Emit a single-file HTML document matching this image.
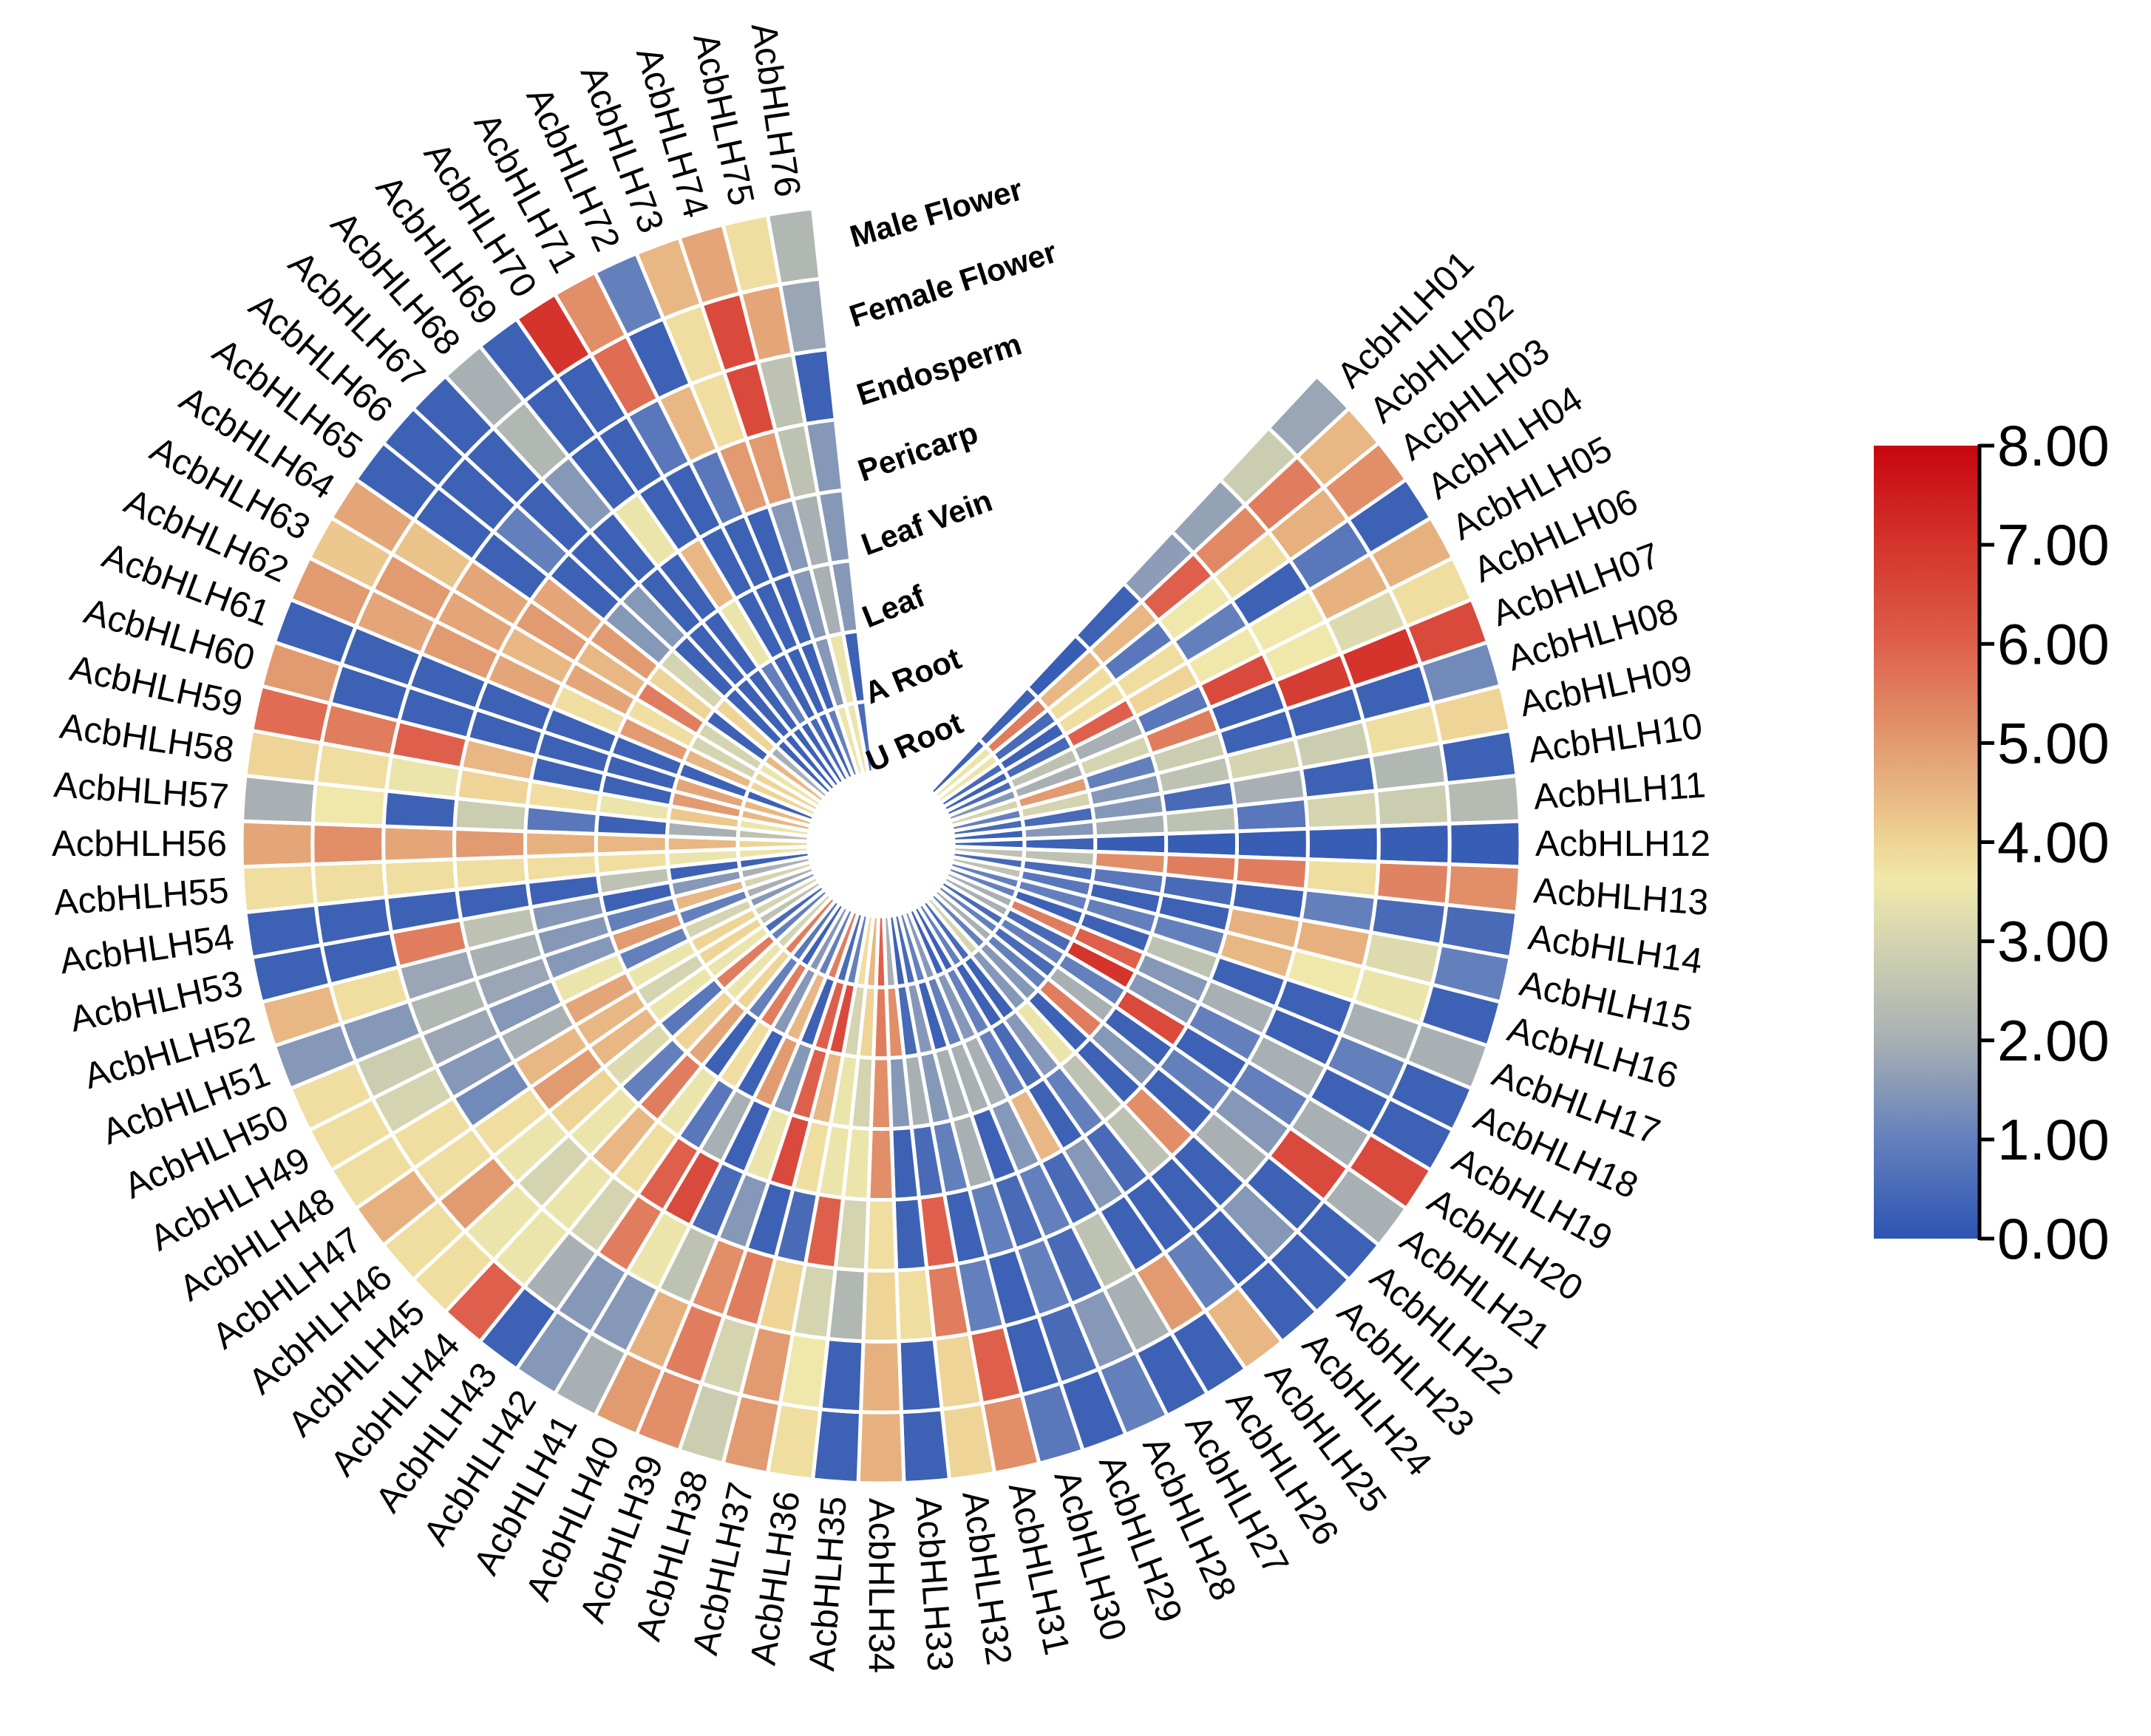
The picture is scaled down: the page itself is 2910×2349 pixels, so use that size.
<!DOCTYPE html>
<html><head><meta charset="utf-8"><style>
html,body{margin:0;padding:0;background:#fff;}
svg{display:block;}
</style></head><body>
<svg id="chart" xmlns="http://www.w3.org/2000/svg" width="2910" height="2349" viewBox="0 0 2910 2349">
<rect width="2910" height="2349" fill="#fff"/>
<g id="cells"></g>
<g id="genelabels"></g>
<g id="tissuelabels"></g>
<g id="legend"></g>
</svg>
<script>
const tissues = ["Male Flower","Female Flower","Endosperm","Pericarp","Leaf Vein","Leaf","A Root","U Root"];
const maleFlower = [1.8,4.5,5.2,0.3,4.6,3.8,6.5,1.2,4.0,0.3, 2.3,0.2,5.2,0.5,1.0,0.3,2.0,0.3,0.3,6.5, 2.0,0.3,0.3,0.3,4.5,0.3,0.3,1.0,0.3,0.8, 5.2,4.0,0.3,4.6,0.3,3.8,5.0,2.8,5.2,5.0, 2.0,1.5,0.3,6.0,3.8,3.8,4.6,3.8,3.8,3.8, 1.5,4.5,0.3,0.3,3.8,4.8,2.0,4.0,5.8,5.0, 0.3,5.0,4.2,4.8,0.3,0.3,0.3,2.0,0.3,7.0, 5.2,1.0,4.5,4.8,3.8,2.2];
const femaleFlower = [2.8,5.5,4.6,0.8,4.6,3.2,7.0,0.3,3.8,2.2, 2.8,0.2,5.4,0.5,3.2,3.5,2.0,1.0,0.3,2.0, 6.5,0.3,1.5,0.3,1.0,5.0,2.0,1.5,0.5,0.3, 6.0,4.0,0.3,4.6,0.3,3.6,5.0,3.0,5.5,4.6, 1.5,1.5,2.0,3.5,3.5,5.0,3.8,3.8,3.0,2.8, 1.5,3.8,0.3,0.3,3.8,5.2,3.6,3.8,5.5,0.3, 0.3,4.8,5.0,4.3,0.3,0.3,0.3,2.2,0.3,0.3, 5.8,0.3,3.8,6.5,4.8,1.8];
const endosperm = [1.7,5.3,3.8,0.3,3.6,3.6,6.8,0.3,2.8,0.3, 3.0,0.2,3.8,1.0,4.6,3.6,0.3,0.3,2.0,1.0, 1.5,2.0,0.3,0.3,0.3,0.3,2.5,0.5,1.0,0.3, 1.0,5.5,3.8,4.0,2.2,3.0,4.0,5.5,5.2,2.5, 3.5,5.5,3.0,3.5,3.0,3.5,3.8,1.2,1.5,1.8, 2.2,1.8,5.5,0.3,3.8,4.8,0.3,3.5,6.0,0.3, 0.3,5.0,4.8,4.8,0.3,1.0,0.3,1.5,0.3,0.3, 0.8,4.5,3.8,6.5,2.5,0.3];
const pericarp = [1.6,6.0,3.6,1.0,3.6,6.5,0.3,0.3,3.0,2.0, 0.8,0.2,5.5,0.3,4.6,4.5,0.3,2.0,1.0,0.3, 1.0,0.3,5.2,2.5,0.5,1.5,0.5,1.0,0.5,1.0, 0.3,6.0,0.3,3.8,3.0,6.0,0.5,0.3,1.5,0.5, 6.5,6.0,3.8,4.5,3.5,4.0,5.0,4.5,2.0,1.5, 1.8,2.0,2.5,0.3,3.8,5.0,2.8,4.0,4.5,0.3, 0.3,4.8,4.5,5.0,4.8,0.3,0.3,0.3,3.5,0.3, 0.3,0.8,5.0,5.0,2.5,1.5];
const leafVein = [0.3,4.5,0.8,3.8,4.0,0.8,5.5,2.8,2.5,0.5, 2.5,0.2,5.5,0.5,0.3,1.0,2.5,1.5,1.5,6.5, 0.3,1.5,0.3,2.5,1.0,0.3,4.5,1.5,0.3,2.0, 1.0,0.5,0.3,5.2,3.5,3.5,3.8,6.5,3.5,0.3, 2.0,0.8,3.5,5.5,1.0,3.2,4.5,4.5,4.8,3.5, 1.5,1.5,1.5,0.3,3.8,4.6,0.8,3.8,0.3,0.3, 0.3,3.8,4.8,4.5,5.0,1.5,1.5,0.3,0.3,4.5, 0.3,0.3,0.3,1.5,2.0,1.5];
const leaf = [0.2,4.5,3.8,3.8,6.0,2.0,3.0,1.0,1.5,1.5, 2.0,0.2,5.2,0.8,0.3,1.0,0.3,6.0,7.0,1.0, 2.0,5.5,0.3,3.5,1.5,0.5,1.0,2.0,2.0,2.0, 1.5,2.0,1.5,5.2,3.0,3.5,4.5,6.0,1.5,5.0, 0.3,3.8,0.3,4.8,4.0,0.8,3.5,3.0,3.5,1.0, 5.0,1.0,0.3,2.5,3.8,4.5,0.3,3.5,0.3,0.3, 0.3,5.0,3.8,5.5,4.0,3.0,0.3,0.3,0.3,3.5, 0.3,0.3,0.3,1.5,2.0,1.5];
const aRoot = [0.3,5.5,0.5,0.3,0.5,2.5,2.0,5.0,3.0,0.5, 1.5,0.3,2.5,0.5,0.8,1.0,0.3,5.5,0.5,1.0, 0.5,1.0,1.5,1.5,0.3,0.3,1.0,1.5,1.0,0.3, 1.5,0.5,5.2,5.5,4.0,3.0,6.5,6.0,0.3,4.5, 1.5,5.5,1.0,4.0,3.5,5.5,3.5,4.0,4.0,3.0, 1.0,4.5,1.5,0.3,3.5,4.5,2.0,4.2,5.0,4.8, 0.3,4.5,3.0,3.0,0.3,4.0,0.3,0.3,0.3,1.0, 0.3,0.3,0.3,1.5,3.5,0.3];
const uRoot = [0.3,3.5,3.5,0.5,0.3,0.5,1.5,3.0,1.0,0.5, 0.3,0.3,2.5,0.5,2.5,1.0,1.0,2.0,2.0,0.5, 1.0,2.0,1.0,3.0,0.5,1.0,0.3,0.3,1.5,1.0, 0.5,0.3,2.0,6.0,4.5,3.8,1.0,0.5,5.5,1.0, 1.5,0.3,0.8,5.5,3.0,1.0,0.5,2.5,3.0,1.5, 2.0,3.0,2.0,0.3,3.5,4.0,2.5,3.5,4.5,4.5, 0.3,4.0,4.0,3.5,4.5,2.0,0.3,0.3,0.3,0.3, 0.5,0.3,1.0,3.5,3.5,0.5];
const legendTicks = ["0.00","1.00","2.00","3.00","4.00","5.00","6.00","7.00","8.00"];

const series = [maleFlower,femaleFlower,endosperm,pericarp,leafVein,leaf,aRoot,uRoot];
const NS = "http://www.w3.org/2000/svg";
const genes = [];
for (let i = 1; i <= maleFlower.length; i++) genes.push("AcbHLH" + String(i).padStart(2,"0"));

const cx = 1192, cy = 1142, rIn = 98, rOut = 865;
const slots = 88, step = 360 / slots, startAng = -45;
const ringW = (rOut - rIn) / tissues.length;
const vmin = 0, vmax = 8;
const stops = [[0,[44,84,178]],[1,[100,128,188]],[2,[168,176,180]],[3,[212,212,176]],[3.6,[240,232,170]],[4,[238,212,150]],[5,[226,154,112]],[6,[222,96,76]],[7,[212,52,44]],[8,[200,6,16]]];
function color(v){
  v = Math.max(vmin, Math.min(vmax, v));
  for (let k = 0; k < stops.length - 1; k++) {
    const a = stops[k], b = stops[k+1];
    if (v <= b[0]) {
      const t = (v - a[0]) / (b[0] - a[0]);
      const c = a[1].map((x, j) => Math.round(x + (b[1][j] - x) * t));
      return "rgb(" + c.join(",") + ")";
    }
  }
  return "rgb(200,6,16)";
}
function angOf(i){ return startAng + i * step; }
function radiusOf(ring){ return rOut - ring * ringW; }
function pt(r, a){ const t = a * Math.PI / 180; return [cx + r * Math.cos(t), cy + r * Math.sin(t)]; }

const cellsG = document.getElementById("cells");
series.forEach((arr, ring) => {
  const r1 = radiusOf(ring), r0 = radiusOf(ring + 1);
  arr.forEach((v, i) => {
    const a0 = angOf(i) - step / 2, a1 = angOf(i) + step / 2;
    const p1 = pt(r1, a0), p2 = pt(r1, a1), p3 = pt(r0, a1), p4 = pt(r0, a0);
    const d = `M${p1[0]},${p1[1]} A${r1},${r1} 0 0 1 ${p2[0]},${p2[1]} L${p3[0]},${p3[1]} A${r0},${r0} 0 0 0 ${p4[0]},${p4[1]} Z`;
    const path = document.createElementNS(NS, "path");
    path.setAttribute("d", d);
    path.setAttribute("fill", color(v));
    path.setAttribute("stroke", "#fff");
    path.setAttribute("stroke-width", "5");
    
    
    cellsG.appendChild(path);
  });
});

const gl = document.getElementById("genelabels");
genes.forEach((g, i) => {
  const a = angOf(i);
  const p = pt(rOut + 20, a);
  const t = document.createElementNS(NS, "text");
  const left = Math.cos(a * Math.PI / 180) < 0;
  t.setAttribute("x", p[0]); t.setAttribute("y", p[1]);
  t.setAttribute("transform", `rotate(${left ? a + 180 : a} ${p[0]} ${p[1]})`);
  t.setAttribute("text-anchor", left ? "end" : "start");
  t.setAttribute("dominant-baseline", "central");
  t.setAttribute("font-family", "Liberation Sans, Arial, sans-serif");
  t.setAttribute("font-size", "49");
  t.setAttribute("fill", "#000");
  t.textContent = g;
  
  
  gl.appendChild(t);
});

const tl = document.getElementById("tissuelabels");
const tPos = [[1155,335,-16],[1155,443,-18],[1165,549,-18],[1167,652,-19],[1172,752,-20],[1174,850,-22],[1177,953,-22],[1180,1045,-24]];
tissues.forEach((name, k) => {
  const t = document.createElementNS(NS, "text");
  const p = tPos[k];
  t.setAttribute("x", p[0]); t.setAttribute("y", p[1]);
  t.setAttribute("transform", `rotate(${p[2]} ${p[0]} ${p[1]})`);
  t.setAttribute("font-family", "Liberation Sans, Arial, sans-serif");
  t.setAttribute("font-weight", "bold");
  t.setAttribute("font-size", "42");
  t.textContent = name;
  
  
  tl.appendChild(t);
});

// legend
const lg = document.getElementById("legend");
const bx = 2535, bw = 141, by0 = 603, by1 = 1676;
const defs = document.createElementNS(NS, "defs");
const grad = document.createElementNS(NS, "linearGradient");
grad.setAttribute("id", "lgGrad"); grad.setAttribute("x1", "0"); grad.setAttribute("y1", "1"); grad.setAttribute("x2", "0"); grad.setAttribute("y2", "0");
stops.forEach(s => {
  const st = document.createElementNS(NS, "stop");
  st.setAttribute("offset", (s[0] / vmax));
  st.setAttribute("stop-color", "rgb(" + s[1].join(",") + ")");
  grad.appendChild(st);
});
defs.appendChild(grad); lg.appendChild(defs);
const bar = document.createElementNS(NS, "rect");
bar.setAttribute("x", bx); bar.setAttribute("y", by0); bar.setAttribute("width", bw); bar.setAttribute("height", by1 - by0);
bar.setAttribute("fill", "url(#lgGrad)");


lg.appendChild(bar);
const axis = document.createElementNS(NS, "line");
axis.setAttribute("x1", bx + bw + 2); axis.setAttribute("x2", bx + bw + 2);
axis.setAttribute("y1", by0 - 2); axis.setAttribute("y2", by1 + 2);
axis.setAttribute("stroke", "#000"); axis.setAttribute("stroke-width", "5");


lg.appendChild(axis);
legendTicks.forEach(lbl => {
  const v = parseFloat(lbl);
  const y = by1 - (v - vmin) / (vmax - vmin) * (by1 - by0);
  const tk = document.createElementNS(NS, "line");
  tk.setAttribute("x1", bx + bw + 2); tk.setAttribute("x2", bx + bw + 22);
  tk.setAttribute("y1", y); tk.setAttribute("y2", y);
  tk.setAttribute("stroke", "#000"); tk.setAttribute("stroke-width", "5");
  
  
  lg.appendChild(tk);
  const t = document.createElementNS(NS, "text");
  t.setAttribute("x", bx + bw + 26); t.setAttribute("y", y);
  t.setAttribute("dominant-baseline", "central");
  t.setAttribute("font-family", "Liberation Sans, Arial, sans-serif");
  t.setAttribute("font-size", "78");
  t.textContent = lbl;
  
  
  lg.appendChild(t);
});
</script>
</body></html>
